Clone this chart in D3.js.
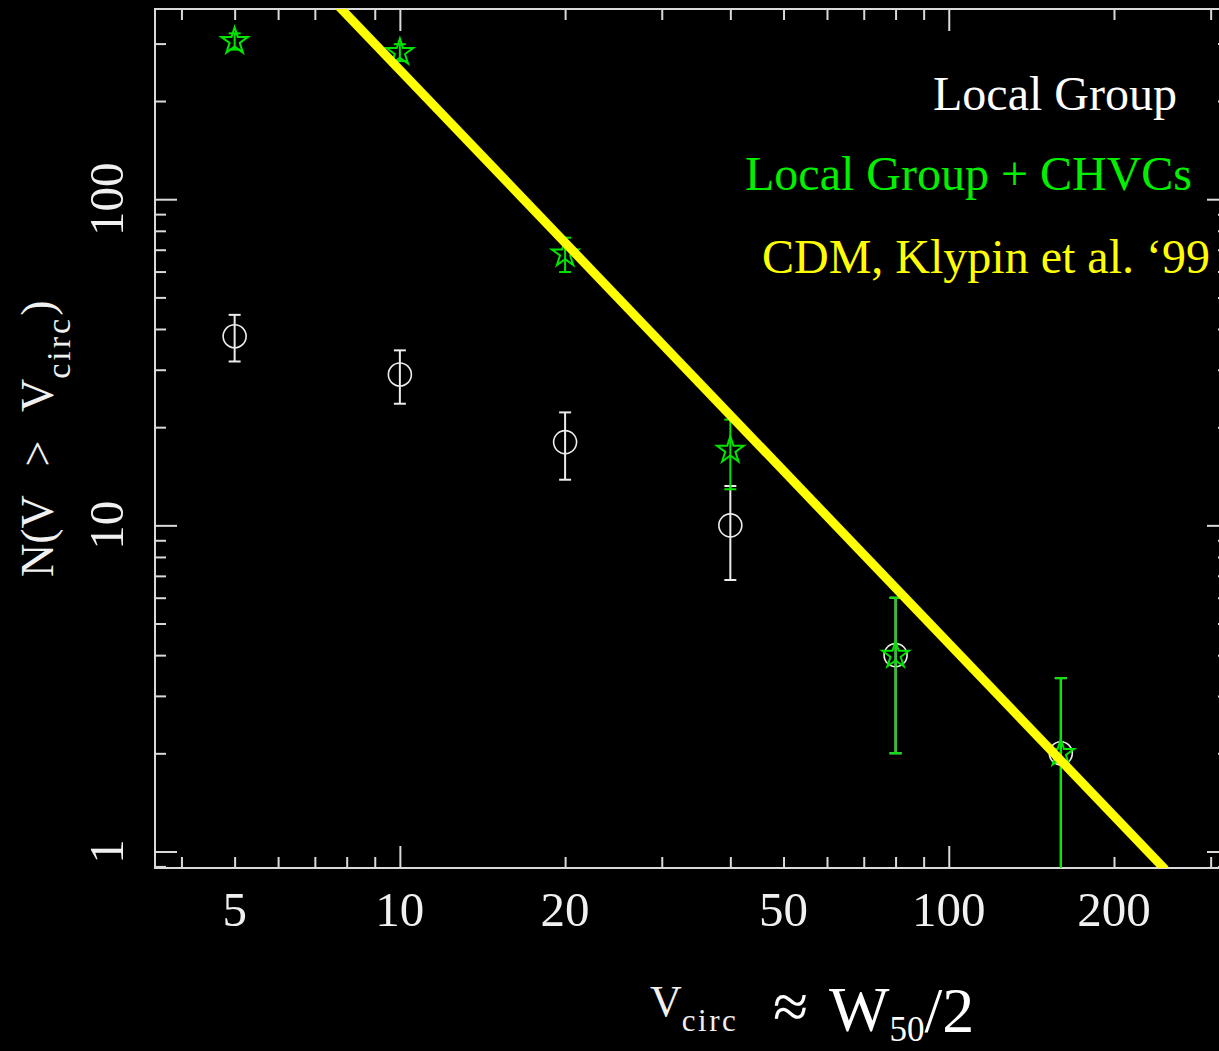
<!DOCTYPE html>
<html>
<head>
<meta charset="utf-8">
<script src="https://cdn.jsdelivr.net/npm/d3@7"></script>
<style>
  html, body { margin: 0; padding: 0; background: #000; }
  svg { display: block; }
  text { font-family: "Liberation Serif", "Times New Roman", serif; }
</style>
</head>
<body>
<svg id="chart" width="1219" height="1051"></svg>
<script>
// Cumulative counts of satellites above a circular velocity
const vCirc = [5, 10, 20, 40, 80, 160];
const nLocalGroup = [38, 29, 18, 10, 4, 2];
const errLocalGroup = [6.2, 5.4, 4.2, 3.2, 2.0, 1.4];
const nWithCHVC = [305, 282, 68, 17, 4, 2];
const errWithCHVC = [17.5, 16.8, 8.2, 4.1, 2.0, 1.4];

// CDM prediction (power law between two end points)
const cdmV = [7.7, 248];
const cdmN = [394, 0.88];

// Axis ranges and labelled ticks
const xDomain = [3.58, 324];
const yDomain = [0.89, 383];
const xTickLabels = [5, 10, 20, 50, 100, 200];
const yTickLabels = [1, 10, 100];

const legendItems = [
  { text: "Local Group", color: "#ffffff" },
  { text: "Local Group + CHVCs", color: "#00f000" },
  { text: "CDM, Klypin et al. \u201899", color: "#ffff00" }
];

const frame = { left: 155, right: 1229, top: 9, bottom: 868 };
const axisColor = "#dadada";
const greenMark = "#00e400";
const whiteMark = "#ececec";

const svg = d3.select("#chart");
svg.append("rect").attr("width", 1219).attr("height", 1051).attr("fill", "#000");

const x = d3.scaleLog().domain(xDomain).range([frame.left, frame.right]);
const y = d3.scaleLog().domain(yDomain).range([frame.bottom, frame.top]);

const isDecade = v => Math.abs(Math.log10(v) - Math.round(Math.log10(v))) < 1e-9;
const xMinor = x.ticks().filter(v => !isDecade(v));
const xMajor = x.ticks().filter(isDecade);
const yMinor = y.ticks().filter(v => !isDecade(v));
const yMajor = y.ticks().filter(isDecade);

function styleAxis(g) {
  g.select(".domain").remove();
  g.selectAll(".tick line").attr("stroke", axisColor).attr("stroke-width", 2);
  g.selectAll(".tick text").remove();
}

// Tick marks on all four sides, pointing inward
const axes = svg.append("g");
[[xMinor, 11], [xMajor, 22]].forEach(([vals, len]) => {
  axes.append("g").attr("transform", `translate(0,${frame.bottom})`)
    .call(d3.axisBottom(x).tickValues(vals).tickSize(-len).tickFormat("")).call(styleAxis);
  axes.append("g").attr("transform", `translate(0,${frame.top})`)
    .call(d3.axisTop(x).tickValues(vals).tickSize(-len).tickFormat("")).call(styleAxis);
});
[[yMinor, 11], [yMajor, 22]].forEach(([vals, len]) => {
  axes.append("g").attr("transform", `translate(${frame.left},0)`)
    .call(d3.axisLeft(y).tickValues(vals).tickSize(-len).tickFormat("")).call(styleAxis);
  axes.append("g").attr("transform", `translate(${frame.right},0)`)
    .call(d3.axisRight(y).tickValues(vals).tickSize(-len).tickFormat("")).call(styleAxis);
});

// Plot frame
svg.append("rect")
  .attr("x", frame.left).attr("y", frame.top)
  .attr("width", frame.right - frame.left).attr("height", frame.bottom - frame.top)
  .attr("fill", "none").attr("stroke", axisColor).attr("stroke-width", 2);

// Tick labels
svg.append("g").selectAll("text").data(xTickLabels).join("text")
  .attr("x", d => x(d)).attr("y", 926)
  .attr("text-anchor", "middle").attr("font-size", 49).attr("fill", "#f0f0f0")
  .text(d => d);

svg.append("g").selectAll("text").data(yTickLabels).join("text")
  .attr("transform", d => `translate(123,${y(d)}) rotate(-90)`)
  .attr("text-anchor", "middle").attr("font-size", 49).attr("fill", "#f0f0f0")
  .text(d => d);

// Axis titles
const yTitle = svg.append("text")
  .attr("transform", "translate(53,577) rotate(-90)")
  .attr("fill", "#f0f0f0").attr("font-size", 46)
  .attr("word-spacing", 18)
  .style("white-space", "pre");
yTitle.append("tspan").text("N(V > V");
yTitle.append("tspan").attr("font-size", 34).attr("letter-spacing", 3).attr("dy", 17).text("circ");
yTitle.append("tspan").attr("dy", -17).text(")");

const xTitle = svg.append("text").attr("fill", "#f0f0f0");
xTitle.append("tspan").attr("x", 650).attr("y", 1016).attr("font-size", 44).text("V");
xTitle.append("tspan").attr("y", 1031).attr("font-size", 31).attr("letter-spacing", 2.5).text("circ");
xTitle.append("tspan").attr("x", 773).attr("y", 1028).attr("font-size", 64).attr("fill", "#fff").text("\u2248");
xTitle.append("tspan").attr("x", 829).attr("y", 1031).attr("font-size", 64).attr("fill", "#fff").text("W");
xTitle.append("tspan").attr("y", 1041).attr("font-size", 35).attr("fill", "#fff").text("50");
xTitle.append("tspan").attr("y", 1032).attr("font-size", 64).attr("fill", "#fff").text("/2");

// Data area, clipped to the frame
svg.append("clipPath").attr("id", "plot-clip").append("rect")
  .attr("x", frame.left).attr("y", frame.top)
  .attr("width", frame.right - frame.left).attr("height", frame.bottom - frame.top);
const plot = svg.append("g").attr("clip-path", "url(#plot-clip)");

function errorBars(g, vals, errs, color) {
  const rows = vCirc.map((v, i) => ({ v, lo: vals[i] - errs[i], hi: vals[i] + errs[i] }));
  const eg = g.append("g").attr("stroke", color).attr("stroke-width", 2).attr("fill", "none");
  eg.selectAll(".stem").data(rows).join("line")
    .attr("x1", d => x(d.v)).attr("x2", d => x(d.v))
    .attr("y1", d => y(d.lo)).attr("y2", d => y(d.hi));
  eg.selectAll(".cap-lo").data(rows).join("line")
    .attr("x1", d => x(d.v) - 6).attr("x2", d => x(d.v) + 6)
    .attr("y1", d => y(d.lo)).attr("y2", d => y(d.lo));
  eg.selectAll(".cap-hi").data(rows).join("line")
    .attr("x1", d => x(d.v) - 6).attr("x2", d => x(d.v) + 6)
    .attr("y1", d => y(d.hi)).attr("y2", d => y(d.hi));
}

// Local Group: open circles
const lg = plot.append("g");
errorBars(lg, nLocalGroup, errLocalGroup, whiteMark);
lg.selectAll("circle").data(vCirc).join("circle")
  .attr("cx", d => x(d)).attr("cy", (d, i) => y(nLocalGroup[i])).attr("r", 11.5)
  .attr("fill", "none").attr("stroke", whiteMark).attr("stroke-width", 1.6);

// Local Group + CHVCs: open stars
const ch = plot.append("g");
errorBars(ch, nWithCHVC, errWithCHVC, greenMark);
const star = d3.symbol().type(d3.symbolStar).size(220);
ch.selectAll("path.star").data(vCirc).join("path")
  .attr("class", "star")
  .attr("transform", (d, i) => `translate(${x(d)},${y(nWithCHVC[i])})`)
  .attr("d", star())
  .attr("fill", "none").attr("stroke", greenMark).attr("stroke-width", 2);

// CDM power law
const cdmLine = d3.line().x(d => x(d[0])).y(d => y(d[1]));
plot.append("path")
  .datum(cdmV.map((v, i) => [v, cdmN[i]]))
  .attr("d", cdmLine)
  .attr("fill", "none").attr("stroke", "#ffff00").attr("stroke-width", 9);

// Legend
const legendPos = [{ x: 933, y: 110 }, { x: 745, y: 190 }, { x: 762, y: 273 }];
svg.append("g").selectAll("text").data(legendItems).join("text")
  .attr("x", (d, i) => legendPos[i].x).attr("y", (d, i) => legendPos[i].y)
  .attr("font-size", 48).attr("fill", d => d.color)
  .text(d => d.text);
</script>
</body>
</html>
